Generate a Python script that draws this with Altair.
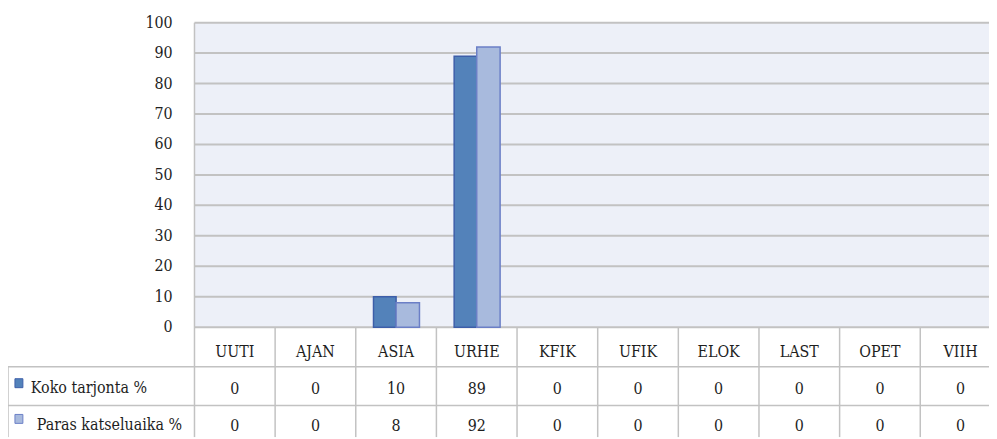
import altair as alt
import pandas as pd

# ---- data ----
categories = ["UUTI", "AJAN", "ASIA", "URHE", "KFIK", "UFIK", "ELOK", "LAST", "OPET", "VIIH"]
koko = [0, 0, 10, 89, 0, 0, 0, 0, 0, 0]
paras = [0, 0, 8, 92, 0, 0, 0, 0, 0, 0]
series_names = ["Koko tarjonta %", "Paras katseluaika %"]
y_ticks = [0, 10, 20, 30, 40, 50, 60, 70, 80, 90, 100]

# ---- layout constants ----
W, H = 989, 431
PLOT_LEFT = 188          # chart px of plot-area left edge
COL = 81.3               # px per category column
PPU = 3.07               # px per percent
ZERO_Y = 320             # chart px of value 0

def xu(page_px):
    return (page_px - 8 - PLOT_LEFT) / COL

def yu(page_py):
    return (328 - page_py) / PPU

x_dom = [-PLOT_LEFT / COL, (W - PLOT_LEFT) / COL]
y_dom = [-(H - ZERO_Y) / PPU, ZERO_Y / PPU]
XS = alt.Scale(domain=x_dom, nice=False, zero=False)
YS = alt.Scale(domain=y_dom, nice=False, zero=False)

FONT = "DejaVu Serif Condensed, DejaVu Serif"
FS = 16
GRID = "#c2c2c2"
TXT = "#1e1e1e"
fills = ["#5382ba", "#a8badd"]
strokes = ["#3d5ea9", "#6b7fc6"]

def X(f="x"):
    return alt.X(f"{f}:Q", scale=XS, axis=None)

def Y(f="y"):
    return alt.Y(f"{f}:Q", scale=YS, axis=None)

# background
bg_df = pd.DataFrame([{"x": 0, "x2": 10, "y": 0, "y2": 100}])
bg = alt.Chart(bg_df).mark_rect(color="#edf0f8", clip=True).encode(
    x=X(), x2="x2:Q", y=Y(), y2="y2:Q")

# gridlines (incl. 0 line = table top)
grid_df = pd.DataFrame({"y": y_ticks, "x": 0, "x2": 10})
grid = alt.Chart(grid_df).mark_rule(color=GRID, strokeWidth=2, clip=True).encode(
    x=X(), x2="x2:Q", y=Y())

# table horizontal lines
hl_df = pd.DataFrame({"y": [yu(368), yu(407)], "x": xu(8), "x2": 10})
hlines = alt.Chart(hl_df).mark_rule(color=GRID, strokeWidth=1.5, clip=True).encode(
    x=X(), x2="x2:Q", y=Y())

# vertical lines
vl_rows = [{"x": 0, "y": 100, "y2": y_dom[0]}]
for i in range(1, 10):
    vl_rows.append({"x": i, "y": 0, "y2": y_dom[0]})
vl_rows.append({"x": xu(8), "y": yu(368), "y2": y_dom[0]})
vl_df = pd.DataFrame(vl_rows)
vlines = alt.Chart(vl_df).mark_rule(color=GRID, strokeWidth=1.5, clip=True).encode(
    x=X(), y=Y(), y2="y2:Q")

# bars
bar_rows = []
for i, c in enumerate(categories):
    bar_rows.append({"cat": c, "idx": i, "series": series_names[0], "value": koko[i]})
    bar_rows.append({"cat": c, "idx": i, "series": series_names[1], "value": paras[i]})
bar_df = pd.DataFrame(bar_rows)
bars = alt.Chart(bar_df).transform_filter("datum.value > 0").transform_calculate(
    x="datum.idx + (datum.series == 'Koko tarjonta %' ? 0.22 : 0.5)",
    x2="datum.idx + (datum.series == 'Koko tarjonta %' ? 0.5 : 0.79)",
    y0="0",
).mark_rect(strokeWidth=1.5, clip=True).encode(
    x=X(), x2="x2:Q", y=alt.Y("y0:Q", scale=YS, axis=None), y2="value:Q",
    fill=alt.Fill("series:N", scale=alt.Scale(domain=series_names, range=fills), legend=None),
    stroke=alt.Stroke("series:N", scale=alt.Scale(domain=series_names, range=strokes), legend=None),
)

# y-axis labels
yl_df = pd.DataFrame({"y": y_ticks, "x": xu(174)})
ylabels = alt.Chart(yl_df).mark_text(align="right", baseline="middle", font=FONT,
                                     fontSize=FS, color=TXT).encode(
    x=X(), y=Y(), text="y:Q")

# header row
hd_df = pd.DataFrame({"cat": categories, "x": [i + 0.5 for i in range(10)], "y": yu(353)})
header = alt.Chart(hd_df).mark_text(align="center", baseline="middle", font=FONT,
                                    fontSize=FS, color=TXT, clip=True).encode(
    x=X(), y=Y(), text="cat:N")

# values
val_rows = []
for i in range(10):
    val_rows.append({"x": i + 0.5, "y": yu(390), "v": koko[i]})
    val_rows.append({"x": i + 0.5, "y": yu(428), "v": paras[i]})
val_df = pd.DataFrame(val_rows)
values = alt.Chart(val_df).mark_text(align="center", baseline="middle", font=FONT,
                                     fontSize=FS, color=TXT, clip=True).encode(
    x=X(), y=Y(), text="v:Q")

# row labels
rl_df = pd.DataFrame({"label": series_names, "x": [xu(31), xu(37)], "y": [yu(389), yu(427)]})
rowlabels = alt.Chart(rl_df).mark_text(align="left", baseline="middle", font=FONT,
                                       fontSize=FS, color=TXT).encode(
    x=X(), y=Y(), text="label:N")

# legend swatches
sw_df = pd.DataFrame({"series": series_names,
                      "x": [xu(15), xu(15)], "x2": [xu(23), xu(23)],
                      "y": [yu(380), yu(416)], "y2": [yu(389), yu(425)]})
swatches = alt.Chart(sw_df).mark_rect(strokeWidth=1).encode(
    x=X(), x2="x2:Q", y=Y(), y2="y2:Q",
    fill=alt.Fill("series:N", scale=alt.Scale(domain=series_names, range=fills), legend=None),
    stroke=alt.Stroke("series:N", scale=alt.Scale(domain=series_names, range=strokes), legend=None),
)

chart = alt.layer(bg, grid, hlines, vlines, bars, ylabels, header, values, rowlabels, swatches).properties(
    width=W, height=H, autosize=alt.AutoSizeParams(type="none"), padding=0,
    background="white",
).configure_view(stroke=None)

chart.save("out.html", embed_options={"renderer": "svg", "actions": False})
